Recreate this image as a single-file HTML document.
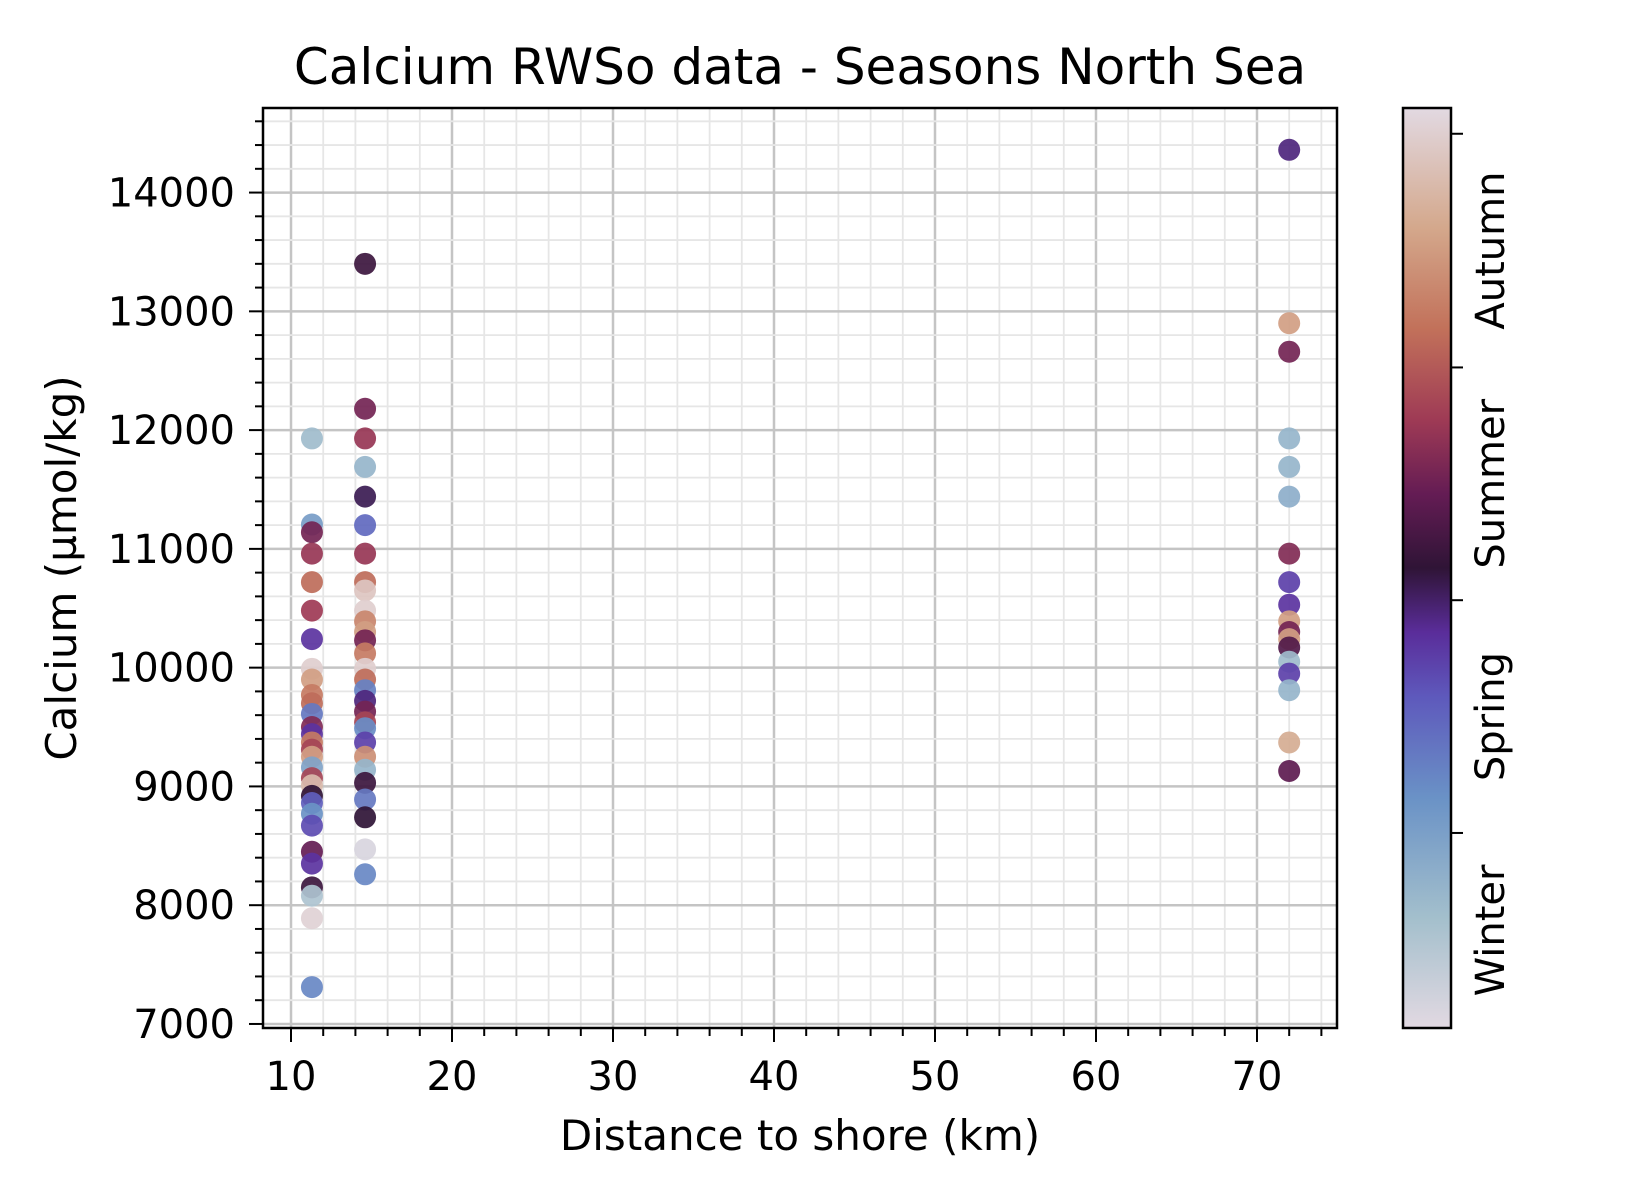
<!DOCTYPE html>
<html><head><meta charset="utf-8"><style>
html,body{margin:0;padding:0;background:#fff;width:1650px;height:1200px;overflow:hidden}
svg text{font-family:"DejaVu Sans","Liberation Sans",sans-serif;fill:#000}
</style></head><body>
<svg id="chart" width="1650" height="1200" viewBox="0 0 1650 1200" xmlns="http://www.w3.org/2000/svg">
<defs>
<linearGradient id="tw" x1="0" y1="1" x2="0" y2="0">
<stop offset="0" stop-color="#e2d9e2"/><stop offset="0.12" stop-color="#a3bfcc"/><stop offset="0.25" stop-color="#6a92c6"/><stop offset="0.36" stop-color="#5e59bc"/><stop offset="0.43" stop-color="#5a2d9a"/><stop offset="0.5" stop-color="#2f1436"/><stop offset="0.58" stop-color="#641c54"/><stop offset="0.66" stop-color="#9e3a55"/><stop offset="0.76" stop-color="#c2715a"/><stop offset="0.87" stop-color="#d4a88c"/><stop offset="1" stop-color="#e2d9e2"/>
</linearGradient>
</defs>
<g id="grid"></g>
<g id="points"></g>
<rect x="263" y="108" width="1074" height="920" fill="none" stroke="#000" stroke-width="2.5"/>
<g id="axes"></g>
<text x="800" y="84" font-size="50" text-anchor="middle">Calcium RWSo data - Seasons North Sea</text>
<text x="800" y="1150" font-size="42" text-anchor="middle">Distance to shore (km)</text>
<text transform="translate(76,568) rotate(-90)" font-size="42" text-anchor="middle">Calcium (µmol/kg)</text>
<rect x="1403" y="108" width="48" height="920" fill="url(#tw)" stroke="#000" stroke-width="2.5"/>
<g id="cbar"></g>
</svg>
<script>
const xTicks=[10,20,30,40,50,60,70];
const yTicks=[7000,8000,9000,10000,11000,12000,13000,14000];
const seasons=["Winter","Spring","Summer","Autumn"];
const cbarTicks=[0.212,0.465,0.718,0.972];
const dist11=[11.3];
const dist14=[14.6];
const dist72=[72];
const ca11=[11930,11205,11140,10960,10720,10480,10240,9990,9900,9770,9700,9610,9500,9440,9370,9310,9250,9160,9070,9010,8920,8860,8770,8670,8450,8350,8150,8080,7890,7310];
const season11=[0.13,0.22,0.6,0.65,0.75,0.66,0.42,0.97,0.85,0.78,0.75,0.3,0.62,0.42,0.78,0.68,0.85,0.2,0.68,0.92,0.5,0.35,0.25,0.38,0.58,0.42,0.52,0.1,0.98,0.27];
const ca14=[13400,12180,11930,11690,11440,11200,10960,10720,10650,10480,10390,10300,10230,10120,9990,9900,9810,9720,9630,9540,9490,9370,9250,9140,9030,8890,8740,8470,8260];
const season14=[0.52,0.6,0.65,0.15,0.48,0.33,0.65,0.75,0.95,0.97,0.8,0.85,0.6,0.78,0.97,0.75,0.28,0.45,0.6,0.68,0.26,0.4,0.82,0.15,0.52,0.3,0.5,0.02,0.27];
const ca72=[14360,12900,12660,11930,11690,11440,10960,10720,10530,10390,10300,10240,10170,10050,9950,9810,9370,9130];
const season72=[0.45,0.85,0.6,0.15,0.15,0.17,0.62,0.4,0.42,0.85,0.6,0.85,0.55,0.13,0.4,0.15,0.88,0.57];

const NS='http://www.w3.org/2000/svg';
const L=263,R=1337,T=108,B=1028;
const X0=8.26,X1=74.97,Y0=6966,Y1=14712;
const xs=v=>L+(v-X0)/(X1-X0)*(R-L);
const ys=v=>B-(v-Y0)/(Y1-Y0)*(B-T);
function mk(tag,attrs,parent){const e=document.createElementNS(NS,tag);for(const k in attrs)e.setAttribute(k,attrs[k]);parent.appendChild(e);return e;}
const stops=[[0,[226,217,226]],[0.12,[163,191,204]],[0.25,[106,146,198]],[0.36,[94,89,188]],[0.43,[90,45,154]],[0.5,[47,20,54]],[0.58,[100,28,84]],[0.66,[158,58,85]],[0.76,[194,113,90]],[0.87,[212,168,140]],[1,[226,217,226]]];
function cmap(t){for(let i=1;i<stops.length;i++){if(t<=stops[i][0]){const a=stops[i-1],b=stops[i];const f=(t-a[0])/(b[0]-a[0]);const c=a[1].map((v,j)=>Math.round(v+(b[1][j]-v)*f));return `rgb(${c})`;}}return 'rgb(226,217,226)';}
const grid=document.getElementById('grid'),axes=document.getElementById('axes');
for(let v=10;v<=74;v+=2){const x=xs(v);const major=v%10===0;
 const g=mk('line',{x1:x,x2:x,y1:T,y2:B,stroke:major?'#c4c4c4':'#e6e6e6','stroke-width':major?2.5:1.8},grid);
 
 
 const t=mk('line',{x1:x,x2:x,y1:B,y2:B+(major?14:8),stroke:'#000','stroke-width':2},axes);
 
 }
for(let v=7000;v<=14600;v+=200){const y=ys(v);const major=v%1000===0;
 const g=mk('line',{x1:L,x2:R,y1:y,y2:y,stroke:major?'#c4c4c4':'#e6e6e6','stroke-width':major?2.5:1.8},grid);
 
 
 const t=mk('line',{x1:L-(major?14:8),x2:L,y1:y,y2:y,stroke:'#000','stroke-width':2},axes);
 
 }
xTicks.forEach(v=>{const t=mk('text',{x:xs(v),y:1090,'font-size':40,'text-anchor':'middle'},axes);t.textContent=v;
 
 });
yTicks.forEach(v=>{const t=mk('text',{x:L-28,y:ys(v)+14,'font-size':40,'text-anchor':'end'},axes);t.textContent=v;
 
 });
const pts=document.getElementById('points');
function plot(d,vals,cs){vals.forEach((v,i)=>{const c=mk('circle',{cx:xs(d[0]),cy:ys(v),r:11,fill:cmap(cs[i]),'fill-opacity':0.92},pts);
 
 });}
plot(dist11,ca11,season11);plot(dist14,ca14,season14);plot(dist72,ca72,season72);
const cb=document.getElementById('cbar');
cbarTicks.forEach(f=>{const y=B-f*(B-T);const t=mk('line',{x1:1451,x2:1463,y1:y,y2:y,stroke:'#000','stroke-width':2},cb);
 
 });
seasons.forEach((s,i)=>{const f=(i===0?0:cbarTicks[i-1]);const yc=B-((f+cbarTicks[i])/2)*(B-T);
 const t=mk('text',{transform:`translate(1504,${yc}) rotate(-90)`,'font-size':40,'text-anchor':'middle'},cb);t.textContent=s;
 
 });
</script>
</body></html>
